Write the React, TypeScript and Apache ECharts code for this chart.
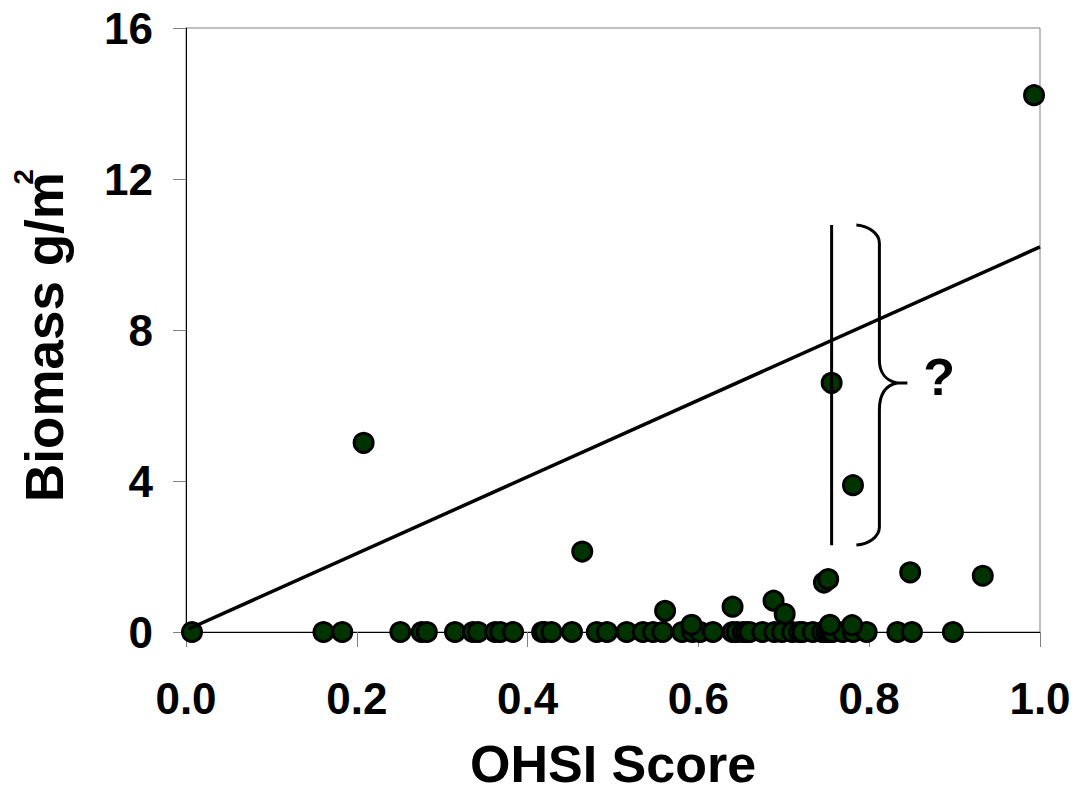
import React, { useEffect, useRef } from "react";
import * as echarts from "echarts";

// OHSI score vs biomass observations
const ohsiScore = [
  0.007, 0.161, 0.183, 0.251, 0.276, 0.282, 0.315, 0.336, 0.342, 0.362, 0.368, 0.383,
  0.417, 0.42, 0.428, 0.452, 0.481, 0.493, 0.516, 0.535, 0.547, 0.558, 0.581, 0.593,
  0.602, 0.617, 0.64, 0.645, 0.652, 0.656, 0.66, 0.675, 0.689, 0.698, 0.71, 0.718,
  0.722, 0.734, 0.745, 0.75, 0.754, 0.757, 0.769, 0.781, 0.797, 0.833, 0.85, 0.898,
  0.208, 0.464, 0.561, 0.592, 0.64, 0.688, 0.701, 0.747, 0.752, 0.754, 0.756, 0.78,
  0.781, 0.848, 0.933, 0.993,
];
const biomass = [
  0, 0, 0, 0, 0, 0, 0, 0, 0, 0, 0, 0,
  0, 0, 0, 0, 0, 0, 0, 0, 0, 0, 0, 0,
  0, 0, 0, 0, 0, 0, 0, 0, 0, 0, 0, 0,
  0, 0, 0, 0, 0, 0, 0, 0, 0, 0, 0, 0,
  5.01, 2.13, 0.56, 0.19, 0.67, 0.83, 0.48, 1.31, 1.4, 0.19, 6.6, 0.18,
  3.89, 1.58, 1.49, 14.22,
];

// Regression line end points
const trendX = [0.003, 1.0];
const trendY = [0.08, 10.2];

// Vertical marker at the selected score and its range
const markerX = 0.756;
const markerRange = [2.3, 10.78];
const braceX = 0.785;
const questionPos = [0.882, 6.76];

const xTicks = [0, 0.2, 0.4, 0.6, 0.8, 1.0];
const yTicks = [0, 4, 8, 12, 16];

const BRACE_H = 320;
const BRACE_D =
  "M0,0 C12,1 23,8 23,18 L23,135 C23,148 30,156 41,158 L51,158 L41,158 C30,160 23,168 23,185 L23,302 C23,312 12,319 0,320";

let registered = false;
function ensureShape() {
  if (registered) return;
  echarts.graphic.registerShape("brace", echarts.graphic.extendPath(BRACE_D, {}) as any);
  registered = true;
}

const FONT = "'Liberation Sans', Arial, sans-serif";

export default function App() {
  const ref = useRef<HTMLDivElement>(null);
  useEffect(() => {
    document.body.style.margin = "0";
    ensureShape();
    const chart = echarts.init(ref.current!, undefined, { renderer: "svg" });
    const points = ohsiScore.map((x, i) => [x, biomass[i]]);
    const trend = trendX.map((x, i) => [x, trendY[i]]);
    chart.setOption({
      animation: false,
      backgroundColor: "#ffffff",
      grid: {
        left: 186,
        right: 38,
        top: 28,
        bottom: 160,
        containLabel: false,
        outerBoundsMode: "none",
        show: true,
        borderColor: "#808080",
        borderWidth: 1,
      },
      xAxis: {
        type: "value",
        min: xTicks[0],
        max: xTicks[xTicks.length - 1],
        interval: 0.2,
        splitLine: { show: false },
        axisLine: { show: true, onZero: false, lineStyle: { color: "#000", width: 1 } },
        axisTick: { show: true, length: 15, lineStyle: { color: "#808080", width: 1 } },
        axisLabel: {
          color: "#000",
          fontFamily: FONT,
          fontWeight: "bold",
          fontSize: 44,
          margin: 44,
          formatter: (v: number) => v.toFixed(1),
        },
        name: "OHSI Score",
        nameLocation: "middle",
        nameGap: 106,
        nameTextStyle: { color: "#000", fontFamily: FONT, fontWeight: "bold", fontSize: 52 },
      },
      yAxis: {
        type: "value",
        min: yTicks[0],
        max: yTicks[yTicks.length - 1],
        interval: 4,
        splitLine: { show: false },
        axisLine: { show: true, lineStyle: { color: "#000", width: 1 } },
        axisTick: { show: true, length: 13, lineStyle: { color: "#808080", width: 1 } },
        axisLabel: {
          color: "#000",
          fontFamily: FONT,
          fontWeight: "bold",
          fontSize: 44,
          margin: 33,
        },
        name: "Biomass g/m",
        nameLocation: "middle",
        nameGap: 115,
        nameTextStyle: {
          color: "#000",
          fontFamily: FONT,
          fontWeight: "bold",
          fontSize: 53,
          padding: [0, 14, 0, 0],
        },
      },
      series: [
        {
          type: "scatter",
          data: points,
          symbol: "circle",
          symbolSize: 19,
          itemStyle: { color: "#013301", borderColor: "#000", borderWidth: 3, opacity: 1 },
          z: 2,
        },
        {
          type: "line",
          data: trend,
          symbol: "none",
          lineStyle: { color: "#000", width: 3.5 },
          z: 3,
        },
        {
          type: "line",
          data: markerRange.map((y) => [markerX, y]),
          symbol: "none",
          lineStyle: { color: "#000", width: 3 },
          z: 3,
        },
      ],
    });

    const top = chart.convertToPixel({ gridIndex: 0 }, [braceX, markerRange[1]]) as number[];
    const bot = chart.convertToPixel({ gridIndex: 0 }, [braceX, markerRange[0]]) as number[];
    const q = chart.convertToPixel({ gridIndex: 0 }, questionPos) as number[];
    const s = (bot[1] - top[1]) / BRACE_H;
    chart.setOption({
      graphic: [
        {
          type: "brace",
          x: top[0],
          y: top[1],
          scaleX: s,
          scaleY: s,
          z: 10,
          style: { stroke: "#000", lineWidth: 3, fill: "none" },
        },
        {
          type: "text",
          x: q[0],
          y: q[1],
          z: 10,
          style: {
            text: "?",
            fontFamily: FONT,
            fontWeight: "bold",
            fontSize: 52,
            fill: "#000",
            align: "center",
            verticalAlign: "middle",
          },
        },
        {
          // superscript of the y-axis unit (m²)
          type: "text",
          x: 23,
          y: 177,
          rotation: Math.PI / 2,
          z: 10,
          style: {
            text: "2",
            fontFamily: FONT,
            fontWeight: "bold",
            fontSize: 28,
            fill: "#000",
            align: "center",
            verticalAlign: "middle",
          },
        },
      ],
    });
    return () => chart.dispose();
  }, []);
  return <div ref={ref} style={{ width: 1078, height: 792 }} />;
}
